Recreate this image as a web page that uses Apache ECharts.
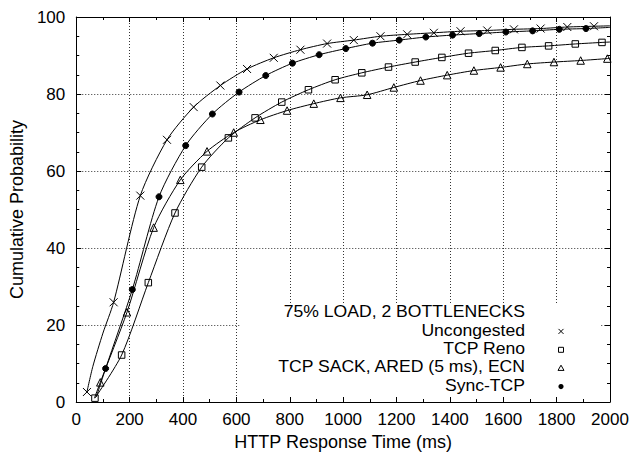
<!DOCTYPE html>
<html><head><meta charset="utf-8">
<script src="https://cdn.jsdelivr.net/npm/echarts@6/dist/echarts.min.js"></script>
<style>html,body{margin:0;padding:0;background:#fff}#c{width:633px;height:457px}</style>
</head><body><div id="c"></div>
<script>
const FONT = '"Liberation Sans", Arial, Helvetica, sans-serif';
const seriesNames = ['Uncongested', 'TCP Reno', 'TCP SACK, ARED (5 ms), ECN', 'Sync-TCP'];
const legendTitle = '75% LOAD, 2 BOTTLENECKS';
const xAxisTitle = 'HTTP Response Time (ms)';
const yAxisTitle = 'Cumulative Probability';
const xTickLabels = [0, 200, 400, 600, 800, 1000, 1200, 1400, 1600, 1800, 2000];
const yTickLabels = [0, 20, 40, 60, 80, 100];

// marker points
const unconX = [40, 140, 240, 340, 440, 540, 640, 740, 840, 940, 1040, 1140, 1240, 1340, 1440, 1540, 1640, 1740, 1840, 1940];
const unconY = [2.6, 25.9, 53.6, 68.1, 76.6, 82.2, 86.5, 89.4, 91.5, 93.1, 94.0, 95.0, 95.5, 95.9, 96.3, 96.5, 96.8, 97.0, 97.4, 97.6];
const renoX = [70, 170, 270, 370, 470, 570, 670, 770, 870, 970, 1070, 1170, 1270, 1370, 1470, 1570, 1670, 1770, 1870, 1970];
const renoY = [1.0, 12.2, 31.0, 49.1, 61.0, 68.6, 73.8, 77.9, 81.1, 83.7, 85.5, 87.0, 88.3, 89.5, 90.6, 91.3, 92.1, 92.5, 93.0, 93.4];
const sackX = [90, 190, 290, 390, 490, 590, 690, 790, 890, 990, 1090, 1190, 1290, 1390, 1490, 1590, 1690, 1790, 1890, 1990];
const sackY = [5.1, 23.3, 45.3, 57.7, 65.1, 70.0, 73.3, 75.7, 77.5, 79.0, 79.8, 81.7, 83.5, 84.9, 86.1, 86.9, 87.8, 88.3, 88.7, 89.2];
const syncX = [110, 210, 310, 410, 510, 610, 710, 810, 910, 1010, 1110, 1210, 1310, 1410, 1510, 1610, 1710, 1810, 1910];
const syncY = [8.7, 29.2, 53.3, 66.6, 74.8, 80.5, 84.8, 88.0, 90.2, 91.8, 93.2, 94.0, 94.8, 95.3, 95.7, 96.1, 96.4, 96.8, 97.0];

// extra curve points between/outside markers
const unconLineX = [62, 100, 2000];
const unconLineY = [9.2, 17.9, 97.7];
const renoLineX = [2000];
const renoLineY = [93.5];
const sackLineX = [68, 2000];
const sackLineY = [1.0, 89.3];
const syncLineX = [75, 2000];
const syncLineY = [1.3, 97.3];

function pairs(xs, ys) { return xs.map((x, i) => [x, ys[i]]); }
function merged(xs, ys, ex, ey) { return pairs(xs, ys).concat(pairs(ex, ey)).sort((a, b) => a[0] - b[0]); }

const markerDefs = [
  { symbol: 'path://M0,0L10,10M10,0L0,10', size: 8, fill: 'none' },
  { symbol: 'rect', size: 6.5, fill: 'none' },
  { symbol: 'triangle', size: 7.5, fill: 'none' },
  { symbol: 'circle', size: 6, fill: '#000' }
];
const lineData = [
  merged(unconX, unconY, unconLineX, unconLineY),
  merged(renoX, renoY, renoLineX, renoLineY),
  merged(sackX, sackY, sackLineX, sackLineY),
  merged(syncX, syncY, syncLineX, syncLineY)
];
const markData = [pairs(unconX, unconY), pairs(renoX, renoY), pairs(sackX, sackY), pairs(syncX, syncY)];

const series = [];
for (let i = 0; i < 4; i++) {
  series.push({
    type: 'line', name: seriesNames[i], data: lineData[i], showSymbol: false, symbol: 'none',
    smooth: 0.25, lineStyle: { color: '#000', width: 1 }, z: 2, silent: true
  });
  series.push({
    type: 'scatter', name: seriesNames[i] + ' pts', data: markData[i], symbol: markerDefs[i].symbol,
    symbolSize: markerDefs[i].size, z: 3, silent: true,
    itemStyle: { color: markerDefs[i].fill, borderColor: '#000', borderWidth: 1, opacity: 1 }
  });
}

const legendRight = 525, symX = 561;
const rowY = [312, 330.4, 348.8, 367.2, 385.6];
const textStyle = (t, y) => ({
  type: 'text', z: 10, x: legendRight, y: y, scaleX: 1.1, scaleY: 1,
  style: { text: t, fill: '#000', font: '16px ' + FONT, align: 'right', verticalAlign: 'middle', textAlign: 'right', textVerticalAlign: 'middle' }
});
const sy = rowY.map(v => v + 1);
const graphic = [
  { type: 'rect', z: 1, shape: { x: 240, y: 305, width: 360, height: 91 }, style: { fill: '#fff' }, silent: true },
  textStyle(legendTitle, rowY[0]),
  textStyle(seriesNames[0], rowY[1]),
  textStyle(seriesNames[1], rowY[2]),
  textStyle(seriesNames[2], rowY[3]),
  textStyle(seriesNames[3], rowY[4]),
  { type: 'line', z: 10, shape: { x1: symX - 2.5, y1: sy[1] - 2.5, x2: symX + 2.5, y2: sy[1] + 2.5 }, style: { stroke: '#000', lineWidth: 1 } },
  { type: 'line', z: 10, shape: { x1: symX - 2.5, y1: sy[1] + 2.5, x2: symX + 2.5, y2: sy[1] - 2.5 }, style: { stroke: '#000', lineWidth: 1 } },
  { type: 'rect', z: 10, shape: { x: symX - 2.5, y: sy[2] - 2.5, width: 5, height: 5 }, style: { fill: 'none', stroke: '#000', lineWidth: 1 } },
  { type: 'polygon', z: 10, shape: { points: [[symX, sy[3] - 3], [symX + 3, sy[3] + 2.2], [symX - 3, sy[3] + 2.2]] }, style: { fill: 'none', stroke: '#000', lineWidth: 1 } },
  { type: 'circle', z: 10, shape: { cx: symX, cy: sy[4], r: 2.6 }, style: { fill: '#000' } }
];

const axisCommon = {
  type: 'value', axisLine: { show: true, onZero: false, lineStyle: { color: '#000', width: 1 } },
  axisTick: { show: true, inside: true, length: 5, lineStyle: { color: '#000', width: 1 } }
};
const labelStyle = { color: '#000', fontSize: 17, fontFamily: FONT };
const gridLine = { show: true, lineStyle: { color: '#333', type: [1, 2], width: 1 } };

const xMin = xTickLabels[0], xMax = xTickLabels[xTickLabels.length - 1], xInt = xTickLabels[1] - xTickLabels[0];
const yMin = yTickLabels[0], yMax = yTickLabels[yTickLabels.length - 1], yInt = yTickLabels[1] - yTickLabels[0];

const option = {
  animation: false,
  backgroundColor: '#fff',
  grid: { left: 73, right: 23, top: 17, bottom: 55 },
  xAxis: [
    Object.assign({}, axisCommon, {
      position: 'bottom', min: xMin, max: xMax, interval: xInt,
      minorTick: { show: true, splitNumber: 2, length: 3, lineStyle: { color: '#000' } },
      splitLine: gridLine,
      axisLabel: Object.assign({ margin: 9, formatter: v => String(v) }, labelStyle),
      name: xAxisTitle, nameLocation: 'middle', nameGap: 27,
      nameTextStyle: { color: '#000', fontSize: 18, fontFamily: FONT }
    }),
    Object.assign({}, axisCommon, {
      position: 'top', min: xMin, max: xMax, interval: xInt,
      minorTick: { show: true, splitNumber: 2, length: 3, lineStyle: { color: '#000' } },
      splitLine: { show: false }, axisLabel: { show: false }
    })
  ],
  yAxis: [
    Object.assign({}, axisCommon, {
      position: 'left', min: yMin, max: yMax, interval: yInt,
      minorTick: { show: true, splitNumber: 4, length: 3, lineStyle: { color: '#000' } },
      splitLine: gridLine,
      axisLabel: Object.assign({ margin: 11, formatter: v => String(v) }, labelStyle),
      name: yAxisTitle, nameLocation: 'middle', nameGap: 46, nameRotate: 90,
      nameTextStyle: { color: '#000', fontSize: 18, fontFamily: FONT }
    }),
    Object.assign({}, axisCommon, {
      position: 'right', min: yMin, max: yMax, interval: yInt,
      minorTick: { show: true, splitNumber: 4, length: 3, lineStyle: { color: '#000' } },
      splitLine: { show: false }, axisLabel: { show: false }
    })
  ],
  series: series,
  graphic: graphic
};
const chart = echarts.init(document.getElementById('c'), null, { renderer: 'svg' });
chart.setOption(option);
</script></body></html>
